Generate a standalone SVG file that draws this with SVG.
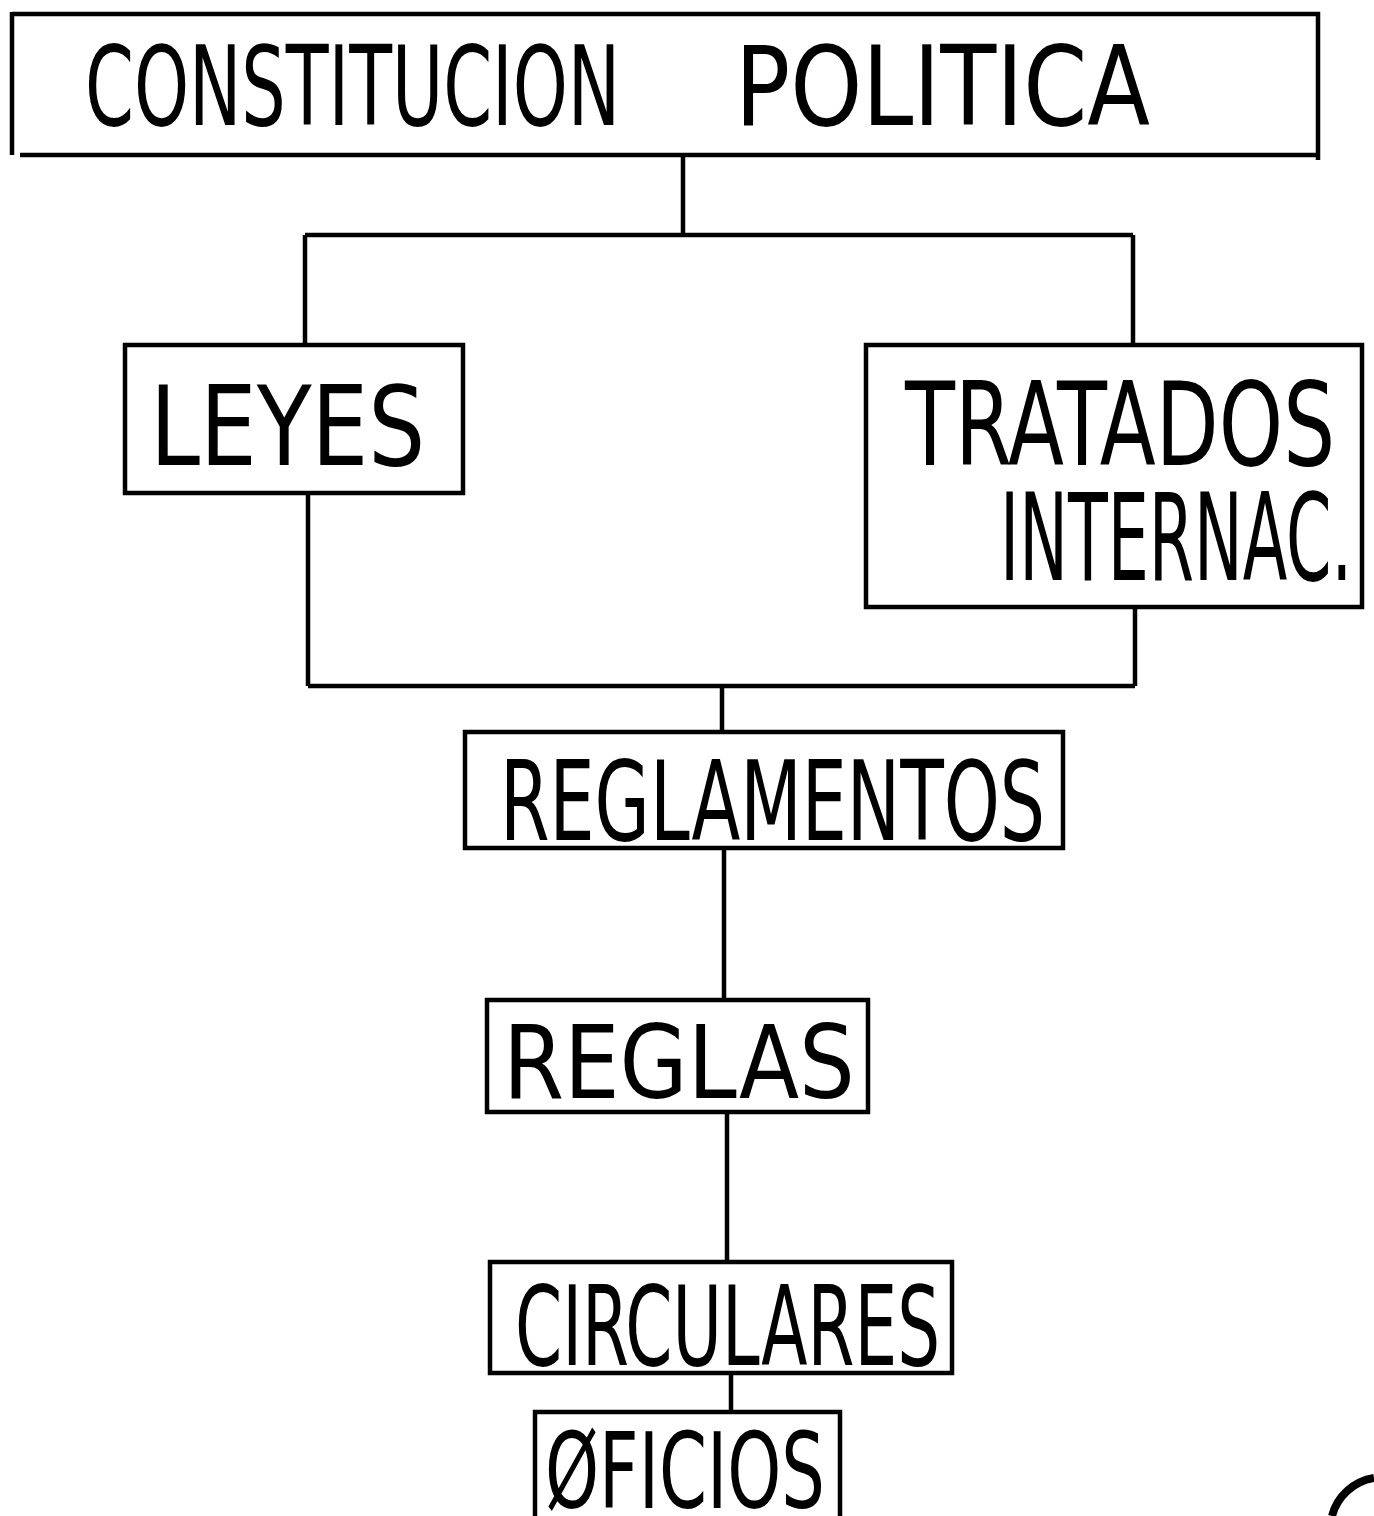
<svg xmlns="http://www.w3.org/2000/svg" width="1374" height="1516" viewBox="0 0 1374 1516">
<style>
.box{fill:none;stroke:#000;stroke-width:4.5;stroke-linejoin:miter}
.con{fill:none;stroke:#000;stroke-width:4.5}
.lbl{font-family:"DejaVu Sans Condensed","DejaVu Sans",sans-serif;fill:#000;font-weight:normal}
</style>
<rect width="1374" height="1516" fill="#fff"/>
<g id="connectors">
<path class="con" d="M683,157 V235 M305,235 H1133 M305,235 V345 M1133,235 V345"/>
<path class="con" d="M308,493 V686 M1135,607 V686 M308,686 H1135 M722,686 V732"/>
<path class="con" d="M724,848 V1000"/>
<path class="con" d="M727,1112 V1262"/>
<path class="con" d="M731,1373 V1412"/>
</g>
<g id="n-constitucion">
<path class="box" d="M12,14 H1318 V160 M12,12 V155 M20,155 H1318"/>
<text class="lbl" transform="translate(85,125) scale(0.707,1)" font-size="110" textLength="757" lengthAdjust="spacingAndGlyphs">CONSTITUCION</text>
<text class="lbl" transform="translate(735,125) scale(0.926,1)" font-size="110" textLength="448" lengthAdjust="spacingAndGlyphs">POLITICA</text>
</g>
<g id="n-leyes">
<rect class="box" x="125" y="345" width="338" height="148"/>
<text class="lbl" transform="translate(150,465) scale(0.905,1)" font-size="110" textLength="304" lengthAdjust="spacingAndGlyphs">LEYES</text>
</g>
<g id="n-tratados">
<rect class="box" x="866" y="345" width="496" height="262"/>
<text class="lbl" transform="translate(905,465) scale(0.752,1)" font-size="116" textLength="572" lengthAdjust="spacingAndGlyphs">TRATADOS</text>
<text class="lbl" transform="translate(1000,580) scale(0.586,1)" font-size="122" textLength="601" lengthAdjust="spacingAndGlyphs">INTERNAC.</text>
</g>
<g id="n-reglamentos">
<rect class="box" x="465" y="732" width="598" height="116"/>
<text class="lbl" transform="translate(500,840) scale(0.723,1)" font-size="110" textLength="754" lengthAdjust="spacingAndGlyphs">REGLAMENTOS</text>
</g>
<g id="n-reglas">
<rect class="box" x="487" y="1000" width="381" height="112"/>
<text class="lbl" transform="translate(503,1098) scale(0.964,1)" font-size="102" textLength="365" lengthAdjust="spacingAndGlyphs">REGLAS</text>
</g>
<g id="n-circulares">
<rect class="box" x="490" y="1262" width="462" height="111"/>
<text class="lbl" transform="translate(515,1365) scale(0.679,1)" font-size="110" textLength="626" lengthAdjust="spacingAndGlyphs">CIRCULARES</text>
</g>
<g id="n-oficios">
<path class="box" d="M535,1520 V1412 H840 V1520"/>
<text class="lbl" transform="translate(545,1508) scale(0.727,1)" font-size="105" textLength="385" lengthAdjust="spacingAndGlyphs">ØFICIOS</text>
</g>
<path d="M1332,1516 A52,52 0 0 1 1374,1478" fill="none" stroke="#000" stroke-width="8"/>
</svg>
